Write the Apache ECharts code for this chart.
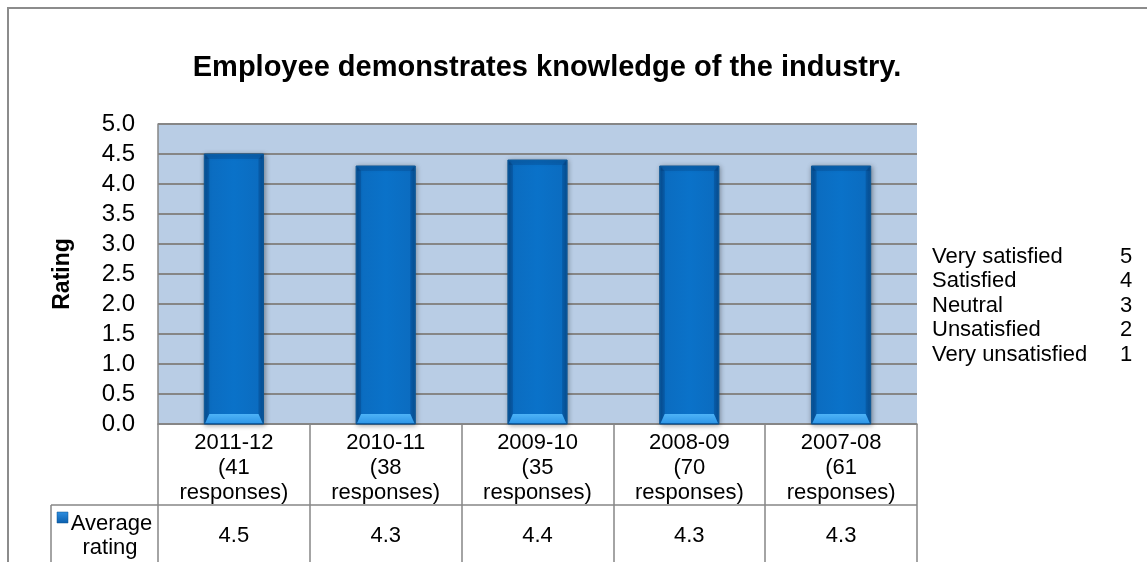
<!DOCTYPE html>
<html>
<head>
<meta charset="utf-8">
<script src="https://cdn.jsdelivr.net/npm/echarts@6/dist/echarts.min.js"></script>
<style>
  html, body { margin: 0; padding: 0; background: #fff; }
  #chart { width: 1147px; height: 562px; }
</style>
</head>
<body>
<div id="chart"></div>
<script>
// Survey years, response counts and average ratings
const years = ['2011-12', '2010-11', '2009-10', '2008-09', '2007-08'];
const responses = [41, 38, 35, 70, 61];
const averageRating = [4.5, 4.3, 4.4, 4.3, 4.3];

// Rating scale key
const scaleLabels = ['Very satisfied', 'Satisfied', 'Neutral', 'Unsatisfied', 'Very unsatisfied'];
const scaleValues = [5, 4, 3, 2, 1];

const yTicks = { min: 0, max: 5, interval: 0.5 };

const FONT = "'Liberation Sans', Arial, sans-serif";
const categoryLabels = years.map((y, i) => y + '\n(' + responses[i] + '\nresponses)');
const valueLabels = averageRating.map(v => v.toFixed(1));

const chart = echarts.init(document.getElementById('chart'), null, { renderer: 'canvas' });

// Bevelled column drawn from the axis coordinates
function renderBar(params, api) {
  const idx = api.value(0);
  const top = api.coord([idx, api.value(1)]);
  const base = api.coord([idx, 0]);
  const band = api.size([1, 0])[0];
  const w = band * 0.39;
  const x = top[0] - w / 2;
  const y = top[1];
  const h = base[1] - top[1];
  const bev = 10;
  const side = 5;
  return {
    type: 'group',
    children: [
      {
        type: 'rect',
        shape: { x: x, y: y, width: w, height: h },
        style: {
          fill: new echarts.graphic.LinearGradient(0, 0, 1, 0, [
            { offset: 0, color: '#0a5aa2' },
            { offset: 0.08, color: '#0b6cc0' },
            { offset: 0.5, color: '#0a72c9' },
            { offset: 0.92, color: '#0b6cc0' },
            { offset: 1, color: '#0a5aa2' }
          ]),
          stroke: '#0d5593',
          lineWidth: 1,
          shadowBlur: 5,
          shadowColor: 'rgba(0,0,0,0.35)',
          shadowOffsetX: 1,
          shadowOffsetY: 1
        }
      },
      {
        type: 'rect',
        shape: { x: x + 1, y: y + 1, width: w - 2, height: 4 },
        style: { fill: 'rgba(0,40,90,0.18)' }
      },
      {
        type: 'polygon',
        shape: { points: [[x + 1, y + 1], [x + side, y + side], [x + side, base[1] - bev], [x + 1, base[1] - 1]] },
        style: { fill: 'rgba(0,40,90,0.25)' }
      },
      {
        type: 'polygon',
        shape: { points: [[x + w - 1, y + 1], [x + w - side, y + side], [x + w - side, base[1] - bev], [x + w - 1, base[1] - 1]] },
        style: { fill: 'rgba(0,40,90,0.25)' }
      },
      {
        type: 'polygon',
        shape: { points: [[x + side, base[1] - bev], [x + w - side, base[1] - bev], [x + w - 1, base[1] - 1], [x + 1, base[1] - 1]] },
        style: {
          fill: new echarts.graphic.LinearGradient(0, 0, 0, 1, [
            { offset: 0, color: '#4db3f7' },
            { offset: 1, color: '#2f97e8' }
          ])
        }
      }
    ]
  };
}

const gridLeft = 158, gridTop = 124, gridW = 759, gridH = 300;
const rowTop = gridTop + gridH + 81;

const option = {
  animation: false,
  backgroundColor: '#ffffff',
  textStyle: { fontFamily: FONT },
  title: {
    text: 'Employee demonstrates knowledge of the industry.',
    left: 542,
    top: 48,
    textAlign: 'center',
    textStyle: { fontFamily: FONT, fontSize: 29, fontWeight: 'bold', color: '#000' }
  },
  grid: {
    left: gridLeft, top: gridTop, width: gridW, height: gridH,
    show: true, backgroundColor: '#b9cde5', borderWidth: 0
  },
  xAxis: [
    {
      type: 'category',
      data: categoryLabels,
      position: 'bottom',
      boundaryGap: true,
      axisLine: { show: true, lineStyle: { color: '#868686', width: 1.5 } },
      axisTick: { show: true, length: 81, lineStyle: { color: '#868686', width: 1.5 } },
      axisLabel: { interval: 0, margin: 6, fontSize: 22, lineHeight: 25, color: '#000', fontFamily: FONT }
    },
    {
      type: 'category',
      data: valueLabels,
      position: 'bottom',
      offset: 81,
      boundaryGap: true,
      axisLine: { show: false },
      axisTick: { show: true, length: 70, lineStyle: { color: '#868686', width: 1.5 } },
      axisLabel: { interval: 0, margin: 20, fontSize: 22, lineHeight: 22, color: '#000', fontFamily: FONT }
    }
  ],
  yAxis: {
    type: 'value',
    min: yTicks.min, max: yTicks.max, interval: yTicks.interval,
    name: 'Rating',
    nameLocation: 'middle',
    nameRotate: 90,
    nameGap: 84,
    nameTextStyle: { fontSize: 23, fontWeight: 'bold', color: '#000', fontFamily: FONT },
    axisLine: { show: true, lineStyle: { color: '#868686', width: 1.5 } },
    axisTick: { show: false },
    axisLabel: { formatter: v => v.toFixed(1), fontSize: 24, color: '#000', margin: 23, fontFamily: FONT },
    splitLine: { show: true, lineStyle: { color: '#868686', width: 2 } }
  },
  series: [
    {
      type: 'custom',
      name: 'Average rating',
      xAxisIndex: 0,
      renderItem: renderBar,
      data: averageRating.map((v, i) => [i, v]),
      encode: { x: 0, y: 1 },
      z: 3
    }
  ],
  graphic: [
    // outer frame
    {
      type: 'rect', silent: true,
      shape: { x: 8, y: 8, width: 1200, height: 600 },
      style: { fill: 'none', stroke: '#8c8c8c', lineWidth: 2 }
    },
    // data table row divider and row-header cell
    {
      type: 'line', silent: true,
      shape: { x1: 51, y1: rowTop, x2: gridLeft + gridW, y2: rowTop },
      style: { stroke: '#868686', lineWidth: 1.5 }
    },
    {
      type: 'line', silent: true,
      shape: { x1: 51, y1: rowTop, x2: 51, y2: 600 },
      style: { stroke: '#868686', lineWidth: 1.5 }
    },
    {
      type: 'rect', silent: true,
      shape: { x: 57, y: 512, width: 11, height: 11 },
      style: {
        fill: new echarts.graphic.LinearGradient(0, 0, 0, 1, [
          { offset: 0, color: '#2f8fe0' }, { offset: 1, color: '#0a5fae' }
        ]),
        stroke: '#0d5593', lineWidth: 0.5
      }
    },
    {
      type: 'text', silent: true,
      style: { text: 'Average', x: 111.5, y: 524, align: 'center', verticalAlign: 'middle', fontSize: 22, fontFamily: FONT, fill: '#000' }
    },
    {
      type: 'text', silent: true,
      style: { text: 'rating', x: 110, y: 548, align: 'center', verticalAlign: 'middle', fontSize: 22, fontFamily: FONT, fill: '#000' }
    }
  ].concat(
    scaleLabels.map((t, i) => ({
      type: 'text', silent: true,
      style: { text: t, x: 932, y: 256.5 + i * 24.6, verticalAlign: 'middle', fontSize: 22, fontFamily: FONT, fill: '#000' }
    })),
    scaleValues.map((v, i) => ({
      type: 'text', silent: true,
      style: { text: String(v), x: 1120, y: 256.5 + i * 24.6, verticalAlign: 'middle', fontSize: 22, fontFamily: FONT, fill: '#000' }
    }))
  )
};

chart.setOption(option);
</script>
</body>
</html>
